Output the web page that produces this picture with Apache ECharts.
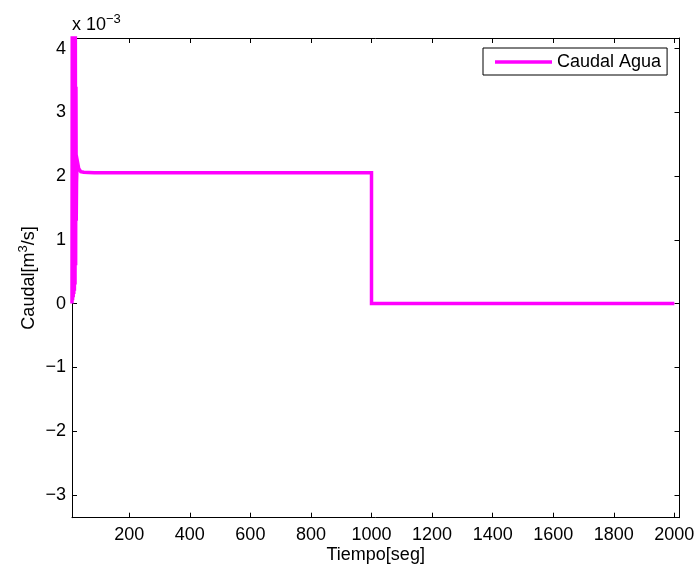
<!DOCTYPE html>
<html>
<head>
<meta charset="utf-8">
<script src="https://cdn.jsdelivr.net/npm/echarts@6/dist/echarts.min.js"></script>
<style>
  html, body { margin: 0; padding: 0; background: #fff; overflow: hidden; }
  #chart { width: 694px; height: 570px; }
</style>
</head>
<body>
<div id="chart"></div>
<script>
// Water flow (x 10^-3 m^3/s) over time (s)
const tiempo = [11, 12, 13, 14, 15, 16, 17, 18, 19, 20, 21, 22, 23, 24, 25, 26, 28, 30, 33, 36, 40, 50, 65, 85, 1000, 1000, 2000];
const caudal = [0, 5.5, 0.05, 5.3, 0.1, 5.1, 0.15, 4.9, 0.2, 4.7, 0.3, 4.5, 0.6, 3.4, 1.3, 1.9, 2.25, 2.2, 2.12, 2.09, 2.07, 2.06, 2.055, 2.05, 2.05, 0, 0];
const xTicks = [200, 400, 600, 800, 1000, 1200, 1400, 1600, 1800, 2000];
const yTicks = [-3, -2, -1, 0, 1, 2, 3, 4];
const seriesName = 'Caudal Agua';

const FONT = '"Liberation Sans", Arial, Helvetica, sans-serif';
const X_MIN = 11, X_MAX = 2017;
const Y_MIN = -3.36, Y_MAX = 4.166;

const chart = echarts.init(document.getElementById('chart'), null, { renderer: 'canvas' });

const tickStyle = { show: true, inside: true, length: 5, lineStyle: { color: '#000', width: 1 } };
const lineStyle = { show: true, onZero: false, lineStyle: { color: '#000', width: 1 } };
const fmtMinus = v => (v < 0 ? '\u2212' + Math.abs(v) : String(v));

chart.setOption({
  backgroundColor: '#fff',
  animation: false,
  grid: { left: 72, top: 38, right: 14.5, bottom: 52.3, containLabel: false, outerBoundsMode: 'none' },
  xAxis: [
    {
      type: 'value', position: 'bottom', min: X_MIN, max: X_MAX,
      axisLine: lineStyle,
      axisTick: Object.assign({ customValues: xTicks }, tickStyle),
      axisLabel: { customValues: xTicks, formatter: v => String(v), color: '#000', fontSize: 18, fontFamily: FONT, margin: 8 },
      splitLine: { show: false }
    },
    {
      type: 'value', position: 'top', min: X_MIN, max: X_MAX,
      axisLine: lineStyle,
      axisTick: Object.assign({ customValues: xTicks }, tickStyle),
      axisLabel: { show: false },
      splitLine: { show: false }
    }
  ],
  yAxis: [
    {
      type: 'value', position: 'left', min: Y_MIN, max: Y_MAX,
      axisLine: lineStyle,
      axisTick: Object.assign({ customValues: yTicks }, tickStyle),
      axisLabel: { customValues: yTicks, formatter: fmtMinus, color: '#000', fontSize: 18, fontFamily: FONT, margin: 6 },
      splitLine: { show: false }
    },
    {
      type: 'value', position: 'right', min: Y_MIN, max: Y_MAX,
      axisLine: lineStyle,
      axisTick: Object.assign({ customValues: yTicks }, tickStyle),
      axisLabel: { show: false },
      splitLine: { show: false }
    }
  ],
  legend: {
    show: true,
    left: 483, top: 48,
    padding: [5, 6, 4, 12],
    borderColor: '#000', borderWidth: 1, borderRadius: 0,
    backgroundColor: '#fff',
    itemWidth: 57, itemHeight: 3.5,
    icon: 'rect',
    textStyle: { color: '#000', fontSize: 18, fontFamily: FONT },
    data: [{ name: seriesName, itemStyle: { color: '#ff00ff' } }]
  },
  series: [{
    name: seriesName,
    type: 'line',
    xAxisIndex: 0, yAxisIndex: 0,
    data: tiempo.map((t, i) => [t, caudal[i]]),
    showSymbol: false,
    symbol: 'none',
    clip: true,
    color: '#ff00ff',
    lineStyle: { color: '#ff00ff', width: 3.5, join: 'miter' }
  }],
  graphic: [
    {
      type: 'text', left: 72, top: 13,
      style: {
        text: 'x 10{sup|\u22123}',
        fill: '#000', font: '18px ' + FONT,
        rich: { sup: { fontSize: 13, fontFamily: FONT, padding: [0, 0, 11, 0] } }
      }
    },
    {
      type: 'text', x: 29, y: 278, rotation: Math.PI / 2,
      style: {
        text: 'Caudal[m{sup|3}/s]',
        fill: '#000', font: '18px ' + FONT,
        align: 'center', verticalAlign: 'middle',
        rich: { sup: { fontSize: 13, fontFamily: FONT, padding: [0, 0, 11, 0] } }
      }
    },
    {
      type: 'text', x: 375.7, y: 555,
      style: {
        text: 'Tiempo[seg]',
        fill: '#000', font: '18px ' + FONT,
        align: 'center', verticalAlign: 'middle'
      }
    }
  ]
});
</script>
</body>
</html>
